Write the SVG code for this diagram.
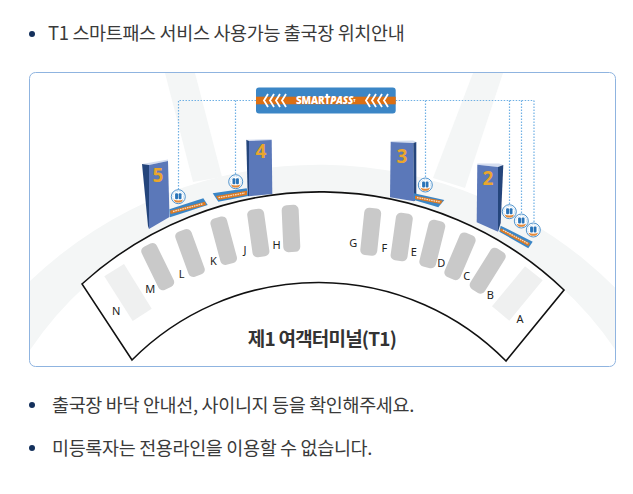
<svg xmlns="http://www.w3.org/2000/svg" xmlns:xlink="http://www.w3.org/1999/xlink" width="633" height="494" viewBox="0 0 633 494">
<style>
.t{font-family:"Noto Sans CJK KR","Noto Sans",sans-serif;fill:#3a3a3a;font-size:18.5px;letter-spacing:-.35px}
.g{fill:#c9c9c9}
.p{fill:#eff0f0}
.l{font-family:"Noto Sans","Liberation Sans",sans-serif;font-size:11px;fill:#222;text-anchor:middle}
.n{font-family:"Open Sans","Liberation Sans",sans-serif;font-weight:700;font-size:19px;fill:#eaa62c;text-anchor:middle}
.f{fill:#5b78b9}.d{fill:#24457c}.c{fill:#d5def0}
.m{fill:#3b86c6}.o{fill:#dc7a22}
.w{fill:none;stroke:#fff;stroke-width:1.3;stroke-dasharray:1.6 .8;opacity:.75}
.dot{fill:none;stroke:#6fb0e4;stroke-width:1.2;stroke-dasharray:1.5 1.5}
.bullet{fill:#14305c}
.ch{fill:none;stroke:#fff;stroke-width:1.8}
</style>
<defs>
<g id="badge">
<circle r="7" fill="#fff" stroke="#3b86c6" stroke-width=".9"/>
<circle r="5.4" fill="none" stroke="#9cc6e6" stroke-width=".7" stroke-dasharray="1 .8"/>
<rect x="-3.2" y="-3.400" width="2.900" height="6" rx="1" fill="#2a74b8"/>
<rect x=".3" y="-3.400" width="2.900" height="6" rx="1" fill="#2a74b8"/>
<path d="M-4.800 2.800Q0 4.800 4.800 2.800L3.200 5.200Q0 6.200-3.200 5.200Z" fill="#e58a3a"/>
</g>
<g id="chev"><path class="ch" d="M4 0L0 6.500L4 13M10 0L6 6.500L10 13M16 0L12 6.500L16 13M22 0L18 6.500L22 13"/></g>
</defs>
<rect width="633" height="494" fill="#fff"/>

<g id="header">
<circle class="bullet" cx="32" cy="34" r="3"/>
<text class="t" x="48" y="40">T1 스마트패스 서비스 사용가능 출국장 위치안내</text>
</g>

<g id="card">
<rect x="29.500" y="72.500" width="586" height="294" rx="6" fill="#fff"/>
<path fill="#f4f6f6" d="M30 281A418 418 0 0 1 615.500 288V350A353 353 0 0 0 30 350Z"/>
<path fill="#f4f6f6" d="M165 73H195L222 177L193 182Z"/>
<path fill="#f4f6f6" d="M473 73H503L465 188L433 178Z"/>
<rect x="29.500" y="72.500" width="586" height="294" rx="6" fill="none" stroke="#8fb4e0"/>
</g>

<g id="terminal">
<path d="M82 284A353 353 0 0 1 564 290L506 361A263 263 0 0 0 132 360Z" fill="#fff" stroke="#111" stroke-width="1.600" stroke-linejoin="miter"/>
<text x="322" y="346" text-anchor="middle" style="font-family:'Noto Sans CJK KR','Noto Sans',sans-serif;font-weight:700;font-size:19px;fill:#333;letter-spacing:-.8px">제1 여객터미널(T1)</text>
</g>

<g id="gates">
<polygon class="p" points="104.300,276.300 124,264 151.700,308.700 132.700,321"/>
<rect class="g" x="-8.500" y="-24" width="17" height="48" rx="5" transform="translate(157.700 266.700) rotate(-26)"/>
<rect class="g" x="-8.500" y="-24" width="17" height="48" rx="5" transform="translate(190 253) rotate(-20)"/>
<rect class="g" x="-8.500" y="-24" width="17" height="48" rx="5" transform="translate(223.700 240.700) rotate(-15)"/>
<rect class="g" x="-8.500" y="-24" width="17" height="48" rx="5" transform="translate(258.300 233) rotate(-8)"/>
<rect class="g" x="-8.500" y="-24" width="17" height="47" rx="5" transform="translate(291 229) rotate(-2.500)"/>
<rect class="g" x="-8.500" y="-24" width="17" height="47.500" rx="5" transform="translate(370.700 232) rotate(6)"/>
<rect class="g" x="-8.500" y="-24" width="17" height="48" rx="5" transform="translate(401.700 237) rotate(8)"/>
<rect class="g" x="-8.500" y="-24" width="17" height="48" rx="5" transform="translate(432.300 244) rotate(14)"/>
<rect class="g" x="-8.500" y="-24" width="17" height="48" rx="5" transform="translate(460 256.300) rotate(23)"/>
<rect class="g" x="-8.500" y="-24" width="17" height="48" rx="5" transform="translate(487.700 270.700) rotate(32)"/>
<polygon class="p" points="525,266.300 542.700,280.300 509.300,320.700 492,306.300"/>
<text class="l" x="116.300" y="315">N</text>
<text class="l" x="150.300" y="293">M</text>
<text class="l" x="181.700" y="278">L</text>
<text class="l" x="213.300" y="265">K</text>
<text class="l" x="245" y="253.500">J</text>
<text class="l" x="276.700" y="248.500">H</text>
<text class="l" x="353.300" y="246.500">G</text>
<text class="l" x="384.300" y="252">F</text>
<text class="l" x="413.700" y="256">E</text>
<text class="l" x="441.300" y="267">D</text>
<text class="l" x="466.700" y="279.500">C</text>
<text class="l" x="490.300" y="299">B</text>
<text class="l" x="520" y="323">A</text>
</g>

<g id="connectors">
<path class="dot" d="M256 100.500H178.500V190M235.500 100.500V175M395.700 100.500H534M425.500 100.500V178M509.500 100.500V205M521.500 100.500V214M534 100.500V223"/>
</g>

<g id="smartpass">
<rect x="256" y="87.500" width="139.700" height="26" rx="3" class="m"/>
<rect x="256" y="96.700" width="139.700" height="7.600" fill="#dc6f12"/>
<use xlink:href="#chev" href="#chev" x="264" y="94"/>
<use xlink:href="#chev" href="#chev" x="366" y="94"/>
<circle cx="327" cy="95" r="1.300" fill="#fff"/>
<text x="296" y="104.300" style="font-family:'Open Sans','Liberation Sans',sans-serif;font-weight:800;font-size:9.800px;fill:#fff;letter-spacing:-.1px">SMART<tspan font-style="italic">PASS</tspan><tspan font-size="4" dy="-2">T</tspan></text>
</g>

<g id="gate5">
<polygon class="c" points="142,164 168,159.500 168,161 149,165"/>
<polygon class="d" points="142,164 149,165 149,229 148,226"/>
<polygon class="f" points="149,165 168,161 169.500,217 149,229"/>
<polygon class="m" points="169.300,209.300 203.300,198.300 207.700,205 170,217.300"/>
<polygon class="o" points="170,210.700 205,201.700 206,205 170.700,214"/>
<path class="w" d="M173 211.500L203 203.700"/>
<text class="n" x="158" y="182">5</text>
<use xlink:href="#badge" href="#badge" x="178.300" y="196.700"/>
</g>
<g id="gate4">
<polygon class="c" points="246.300,139.700 271.700,139 271.700,140 249,141"/>
<polygon class="d" points="246.300,139.700 249,141 249,196.300 247.700,196"/>
<polygon class="f" points="249,141 271.700,140 272.300,194 249,196.300"/>
<polygon class="m" points="212.700,193.300 246.700,188.300 248.300,196 218.300,201.700"/>
<polygon class="o" points="216,196 247,190.700 247,195 218.300,200"/>
<path class="w" d="M218.500 197.700L245 193"/>
<text class="n" x="261" y="158">4</text>
<use xlink:href="#badge" href="#badge" x="235.700" y="181.700"/>
</g>
<g id="gate3">
<polygon class="c" points="390.700,141 413,140.500 416.300,142 413.300,143 390.700,142"/>
<polygon class="f" points="390.700,142 413.300,143 414,201.300 390,197.300"/>
<polygon class="d" points="413.300,143 416.300,142 416.300,199 414,201.300"/>
<polygon class="m" points="414,193.300 444.300,200 438.300,207.300 414,200"/>
<polygon class="o" points="415,195.700 442.700,200.700 440.700,204 415,199"/>
<path class="w" d="M417 197.500L440 202"/>
<text class="n" x="402" y="163">3</text>
<use xlink:href="#badge" href="#badge" x="425.300" y="185"/>
</g>
<g id="gate2">
<polygon class="c" points="477.300,163.500 499,163.500 503.300,165 498,167 477.300,164.700"/>
<polygon class="f" points="477.300,164.700 498,167 498,231.700 476.700,222.300"/>
<polygon class="d" points="498,167 503.300,165 500.700,223 498,231.700"/>
<polygon class="m" points="500.700,225.700 532.700,241.700 528.300,248.300 499.300,231.700"/>
<polygon class="o" points="500.700,228.300 530,243.300 528.300,246 500,231"/>
<path class="w" d="M503 230L528 243.500"/>
<text class="n" x="488" y="185">2</text>
<use xlink:href="#badge" href="#badge" x="509.300" y="211.700"/>
<use xlink:href="#badge" href="#badge" x="521.300" y="221"/>
<use xlink:href="#badge" href="#badge" x="533.300" y="230"/>
</g>

<g id="notes">
<circle class="bullet" cx="32" cy="405" r="3"/>
<text class="t" x="52" y="412">출국장 바닥 안내선, 사이니지 등을 확인해주세요.</text>
<circle class="bullet" cx="32" cy="448" r="3"/>
<text class="t" x="52" y="455">미등록자는 전용라인을 이용할 수 없습니다.</text>
</g>
</svg>
